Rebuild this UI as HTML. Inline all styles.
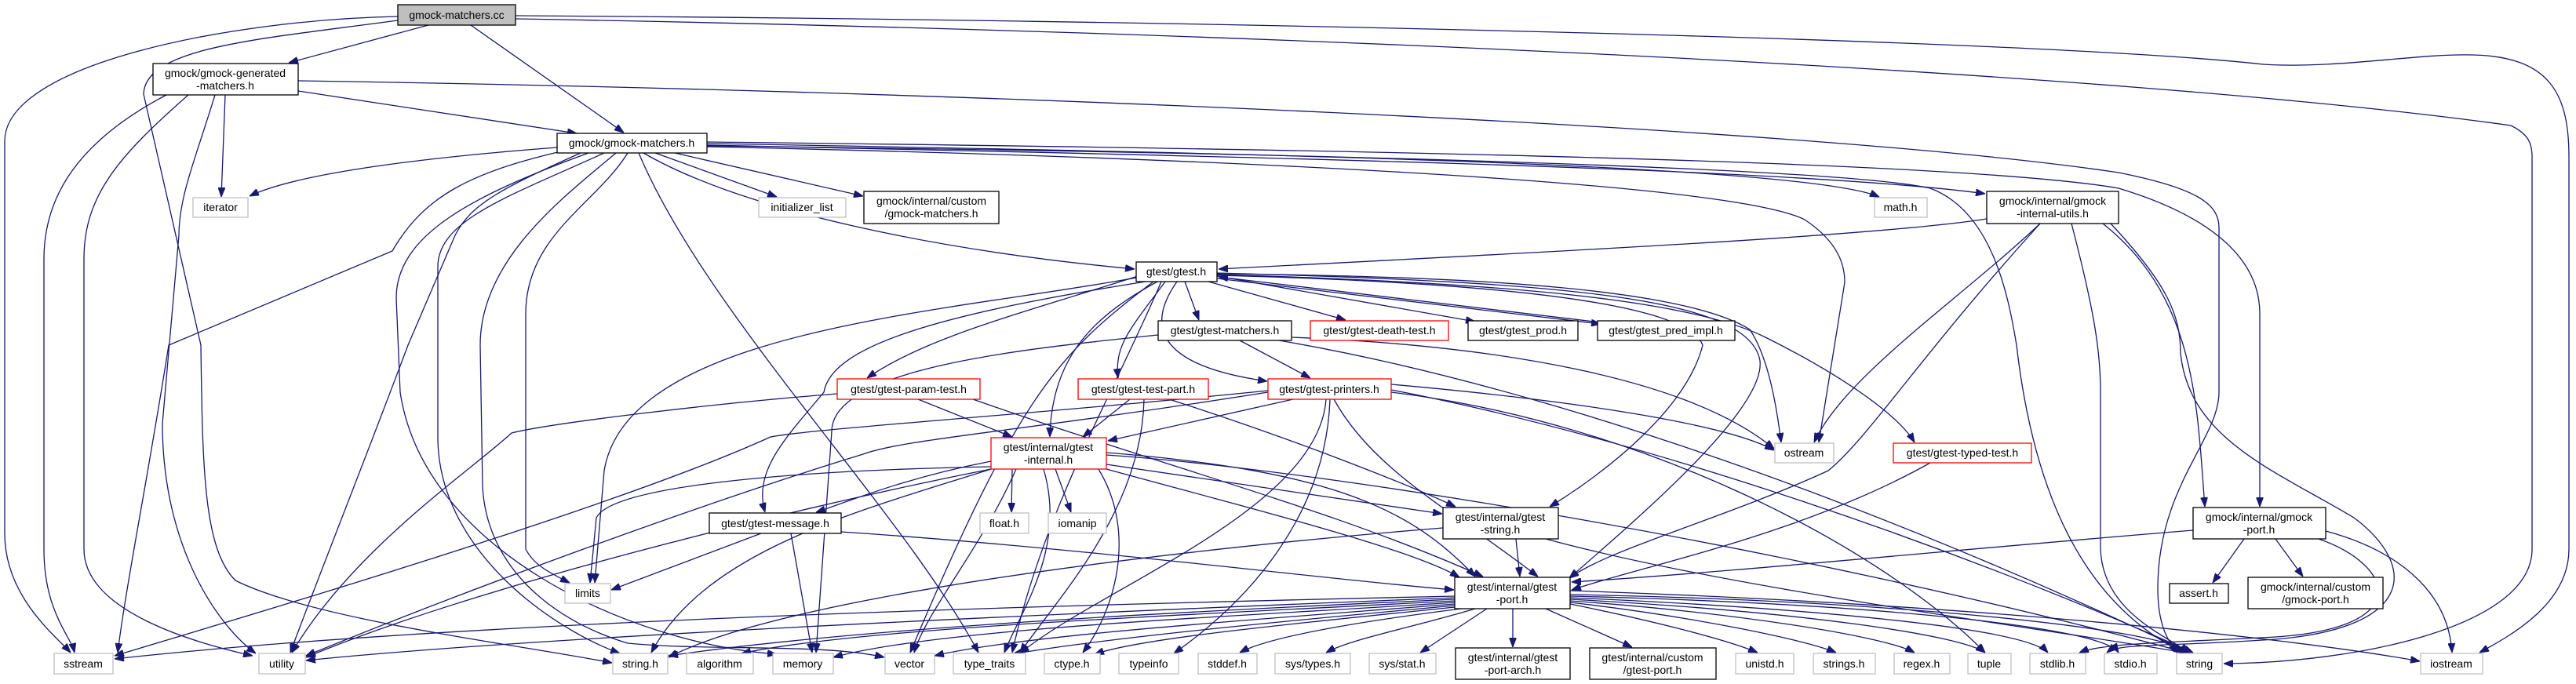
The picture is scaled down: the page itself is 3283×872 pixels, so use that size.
<!DOCTYPE html>
<html><head><meta charset="utf-8"><style>
html,body{margin:0;padding:0;background:#fff;}
svg{display:block;}
text{font-family:"Liberation Sans",sans-serif;font-size:14px;fill:#000;text-anchor:middle;}
.e{fill:none;stroke:#191970;stroke-width:1.3;marker-end:url(#a);}
.k{fill:#fff;stroke:#000;stroke-width:1.3;}
.g{fill:#fff;stroke:#bfbfbf;stroke-width:1.3;}
.r{fill:#fff;stroke:#ff0000;stroke-width:1.3;}
</style></head><body>
<svg width="3283" height="872" viewBox="0 0 3283 872" xmlns="http://www.w3.org/2000/svg">
<defs><marker id="a" markerWidth="12" markerHeight="9" refX="12" refY="4.5" orient="auto" markerUnits="userSpaceOnUse"><path d="M0,0 L12,4.5 L0,9z" fill="#191970" stroke="#191970"/></marker></defs>
<g>
<path class="e" d="M546,32 L368,80"/>
<path class="e" d="M600,32 L795,169"/>
<path class="e" d="M507,21 C300,25 6,80 6,180 L6,680 C6,760 70,810 90,832"/>
<path class="e" d="M507,26 C330,50 185,60 183,120 L256,440 C258,600 260,700 300,740 C400,790 650,820 780,845"/>
<path class="e" d="M657,20 C1500,25 2600,50 2884,82 C2980,88 3080,68 3151,70 C3250,72 3274,120 3274,200 L3274,700 C3274,770 3200,810 3160,832"/>
<path class="e" d="M657,24 C1600,40 2700,90 3200,160 C3220,170 3227,180 3227,200 L3227,700 C3227,800 3000,845 2834,846"/>
<path class="e" d="M380,116 L735,170"/>
<path class="e" d="M287,121 L282,251"/>
<path class="e" d="M380,103 C1200,115 2300,160 2700,220 C2800,240 2828,260 2828,290 L2828,500 C2828,560 2750,620 2750,750 C2750,800 2765,820 2775,832"/>
<path class="e" d="M212,121 C100,180 56,250 56,330 L56,700 C56,780 90,810 95,832"/>
<path class="e" d="M240,121 C150,200 107,250 107,330 L107,700 C107,780 250,820 322,836"/>
<path class="e" d="M274,121 C250,200 228,250 228,300 L207,540 C207,700 280,800 326,833"/>
<path class="e" d="M710,188 C550,200 380,220 318,250"/>
<path class="e" d="M835,195 L990,251"/>
<path class="e" d="M860,195 L1100,250"/>
<path class="e" d="M901,183 C1600,195 2300,210 2395,251"/>
<path class="e" d="M901,185 C1600,200 2300,215 2530,247"/>
<path class="e" d="M901,181 C1700,190 2500,205 2700,240 C2800,270 2880,320 2880,400 L2880,646"/>
<path class="e" d="M901,187 C1500,200 2200,230 2300,280 C2345,310 2351,340 2351,360 L2318,564"/>
<path class="e" d="M901,186 C1700,195 2350,215 2460,240 C2540,270 2560,380 2570,440 C2600,700 2700,790 2782,832"/>
<path class="e" d="M820,195 C950,270 1200,320 1446,343"/>
<path class="e" d="M715,193 C600,220 540,250 500,320 L215,440 C190,600 160,750 150,832"/>
<path class="e" d="M740,195 C640,240 600,260 580,300 L520,440 C460,600 400,750 370,832"/>
<path class="e" d="M800,195 C760,260 670,300 670,400 L670,700 C680,720 700,730 726,743"/>
<path class="e" d="M770,195 C650,250 558,280 558,340 L558,560 C560,700 700,800 790,833"/>
<path class="e" d="M750,195 C600,250 505,300 505,380 L510,500 C540,700 800,820 990,834"/>
<path class="e" d="M785,195 C720,250 612,330 612,440 L615,620 C620,720 700,790 800,820 C900,830 1050,820 1127,838"/>
<path class="e" d="M814,195 C900,400 1150,650 1247,832"/>
<path class="e" d="M1510,359 L1528,408"/>
<path class="e" d="M1540,359 L1715,408"/>
<path class="e" d="M1551,352 L1880,410"/>
<path class="e" d="M1551,355 L2040,413"/>
<path class="e" d="M2040,411 L1553,353"/>
<path class="e" d="M2532,279 C2400,300 2000,320 1553,343"/>
<path class="e" d="M1551,349 C1900,352 2150,370 2230,420 C2250,450 2262,500 2270,564"/>
<path class="e" d="M1551,350 C1900,360 2150,380 2250,430 C2350,480 2420,530 2440,564"/>
<path class="e" d="M1551,351 C1900,360 2150,385 2170,440 C2150,520 2050,600 1975,646"/>
<path class="e" d="M1551,348 C2000,360 2230,380 2243,460 C2250,520 2100,650 2000,737"/>
<path class="e" d="M1450,352 C1300,400 1180,430 1105,482"/>
<path class="e" d="M1485,359 C1440,420 1420,440 1425,482"/>
<path class="e" d="M1500,359 C1450,430 1500,470 1615,486"/>
<path class="e" d="M1475,359 C1400,400 1340,450 1338,557"/>
<path class="e" d="M1460,359 C1200,400 1060,440 1050,500 C1000,560 960,600 975,653"/>
<path class="e" d="M1448,354 C1200,400 800,420 770,600 L758,743"/>
<path class="e" d="M1470,359 C1350,450 1300,500 1160,832"/>
<path class="e" d="M1480,359 C1420,500 1330,650 1290,832"/>
<path class="e" d="M1580,434 L1670,482"/>
<path class="e" d="M1646,430 C1900,440 2150,480 2261,572"/>
<path class="e" d="M1476,427 C1300,445 1060,470 1060,550 L1040,832"/>
<path class="e" d="M1630,434 C1900,480 2300,600 2790,832"/>
<path class="e" d="M1170,509 L1290,557"/>
<path class="e" d="M1240,509 C1500,600 1700,650 1890,735"/>
<path class="e" d="M1067,502 C900,515 700,540 652,552 C600,600 450,700 372,832"/>
<path class="e" d="M1440,509 L1380,557"/>
<path class="e" d="M1490,509 C1650,560 1800,620 1855,646"/>
<path class="e" d="M1458,509 C1455,650 1350,760 1300,832"/>
<path class="e" d="M1648,509 L1412,562"/>
<path class="e" d="M1773,490 C2000,510 2200,540 2261,574"/>
<path class="e" d="M1700,509 C1750,600 1850,650 1960,735"/>
<path class="e" d="M1773,497 C2100,560 2500,700 2795,832"/>
<path class="e" d="M1773,500 C2100,540 2400,700 2530,832"/>
<path class="e" d="M1695,509 C1690,650 1600,760 1496,833"/>
<path class="e" d="M1690,509 C1680,650 1400,750 1300,833"/>
<path class="e" d="M1616,498 C1300,530 1050,545 982,557 C800,640 400,760 146,836"/>
<path class="e" d="M1616,500 C1300,550 1150,560 1100,579 C900,640 600,750 390,836"/>
<path class="e" d="M1290,598 L1289,653"/>
<path class="e" d="M1345,598 L1365,653"/>
<path class="e" d="M1263,588 C1150,610 1080,640 1040,653"/>
<path class="e" d="M1410,592 L1838,655"/>
<path class="e" d="M1410,577 C1700,600 1800,650 1880,735"/>
<path class="e" d="M1410,598 C1600,650 1800,700 1860,736"/>
<path class="e" d="M1295,598 C1250,700 1180,780 1165,832"/>
<path class="e" d="M1330,598 C1360,700 1300,780 1280,832"/>
<path class="e" d="M1400,598 C1450,680 1420,780 1380,832"/>
<path class="e" d="M1263,595 C1000,600 780,620 760,660 L752,743"/>
<path class="e" d="M1263,598 C1000,650 600,750 390,838"/>
<path class="e" d="M1263,598 C1100,650 900,700 830,832"/>
<path class="e" d="M1410,580 C1700,600 2300,700 2790,833"/>
<path class="e" d="M970,680 L779,752"/>
<path class="e" d="M1008,680 L1035,832"/>
<path class="e" d="M1072,678 C1400,700 1700,740 1853,752"/>
<path class="e" d="M1932,687 L1937,735"/>
<path class="e" d="M1839,673 C1500,700 1000,760 852,838"/>
<path class="e" d="M1970,687 C2200,750 2600,800 2790,833"/>
<path class="e" d="M1928,776 L1928,825"/>
<path class="e" d="M1970,776 L2080,825"/>
<path class="e" d="M1895,776 L1810,832"/>
<path class="e" d="M1880,776 C1800,800 1720,815 1690,832"/>
<path class="e" d="M1870,775 C1750,790 1620,810 1580,832"/>
<path class="e" d="M1854,760 C1400,770 600,790 146,840"/>
<path class="e" d="M1854,762 C1400,780 700,810 390,842"/>
<path class="e" d="M1854,764 C1500,780 1100,800 852,836"/>
<path class="e" d="M1854,766 C1500,785 1100,800 945,833"/>
<path class="e" d="M1854,768 C1600,785 1200,800 1062,838"/>
<path class="e" d="M1854,770 C1600,790 1300,810 1191,836"/>
<path class="e" d="M1854,772 C1600,795 1400,815 1290,834"/>
<path class="e" d="M1854,774 C1600,800 1450,815 1395,834"/>
<path class="e" d="M2001,770 C2100,790 2200,815 2240,832"/>
<path class="e" d="M2001,768 C2150,785 2300,815 2340,832"/>
<path class="e" d="M2001,766 C2200,780 2400,810 2440,832"/>
<path class="e" d="M2001,764 C2300,780 2500,810 2530,832"/>
<path class="e" d="M2001,762 C2300,775 2580,800 2610,832"/>
<path class="e" d="M2001,760 C2400,770 2680,800 2700,832"/>
<path class="e" d="M2001,758 C2400,765 2750,800 2790,832"/>
<path class="e" d="M2001,753 C2500,770 2900,810 3084,843"/>
<path class="e" d="M2460,590 C2300,680 2100,720 2003,752"/>
<path class="e" d="M2795,676 C2500,700 2200,730 2003,742"/>
<path class="e" d="M2860,687 L2820,743"/>
<path class="e" d="M2900,687 L2935,735"/>
<path class="e" d="M2964,677 C3050,700 3120,750 3125,832"/>
<path class="e" d="M2955,687 C3050,720 3080,800 2900,812 C2750,820 2680,820 2650,832"/>
<path class="e" d="M2600,285 C2500,380 2350,480 2312,564"/>
<path class="e" d="M2680,285 C2800,380 2800,520 2810,646"/>
<path class="e" d="M2640,285 C2670,400 2677,450 2677,500 L2677,700 C2680,780 2760,810 2790,832"/>
<path class="e" d="M2690,285 C2760,360 2779,400 2779,450 C2790,560 2900,600 3000,660 C3080,720 3080,800 2900,815 C2750,825 2700,820 2685,832"/>
<path class="e" d="M2600,285 C2450,450 2380,560 2330,600 C2200,660 2050,700 2000,737"/>
</g>
<g>
<rect x="507" y="6" width="150" height="26" fill="#bfbfbf" stroke="#000" stroke-width="1.3"/><text x="582" y="24">gmock-matchers.cc</text>
<rect class="k" x="195" y="81" width="185" height="40"/><text x="287" y="98">gmock/gmock-generated</text><text x="287" y="114">-matchers.h</text>
<rect class="k" x="710" y="170" width="191" height="25"/><text x="805" y="187">gmock/gmock-matchers.h</text>
<rect class="g" x="246" y="252" width="70" height="25"/><text x="281" y="269">iterator</text>
<rect class="g" x="967" y="252" width="111" height="25"/><text x="1022" y="269">initializer_list</text>
<rect class="k" x="1101" y="244" width="172" height="41"/><text x="1187" y="261">gmock/internal/custom</text><text x="1187" y="277">/gmock-matchers.h</text>
<rect class="g" x="2389" y="252" width="67" height="25"/><text x="2422" y="269">math.h</text>
<rect class="k" x="2532" y="244" width="168" height="41"/><text x="2616" y="261">gmock/internal/gmock</text><text x="2616" y="277">-internal-utils.h</text>
<rect class="k" x="1448" y="334" width="103" height="25"/><text x="1499" y="351">gtest/gtest.h</text>
<rect class="k" x="1476" y="409" width="170" height="25"/><text x="1561" y="426">gtest/gtest-matchers.h</text>
<rect class="r" x="1670" y="409" width="176" height="25"/><text x="1758" y="426">gtest/gtest-death-test.h</text>
<rect class="k" x="1871" y="409" width="140" height="25"/><text x="1941" y="426">gtest/gtest_prod.h</text>
<rect class="k" x="2036" y="409" width="175" height="25"/><text x="2123" y="426">gtest/gtest_pred_impl.h</text>
<rect class="r" x="1067" y="483" width="182" height="26"/><text x="1158" y="501">gtest/gtest-param-test.h</text>
<rect class="r" x="1374" y="483" width="166" height="26"/><text x="1457" y="501">gtest/gtest-test-part.h</text>
<rect class="r" x="1616" y="483" width="157" height="26"/><text x="1694" y="501">gtest/gtest-printers.h</text>
<rect class="g" x="2262" y="565" width="75" height="25"/><text x="2299" y="582">ostream</text>
<rect class="r" x="2413" y="565" width="176" height="25"/><text x="2501" y="582">gtest/gtest-typed-test.h</text>
<rect class="r" x="1263" y="558" width="147" height="40"/><text x="1336" y="575">gtest/internal/gtest</text><text x="1336" y="591">-internal.h</text>
<rect class="k" x="904" y="654" width="168" height="26"/><text x="988" y="672">gtest/gtest-message.h</text>
<rect class="g" x="1249" y="654" width="62" height="26"/><text x="1280" y="672">float.h</text>
<rect class="g" x="1336" y="654" width="74" height="26"/><text x="1373" y="672">iomanip</text>
<rect class="k" x="1839" y="647" width="147" height="40"/><text x="1912" y="664">gtest/internal/gtest</text><text x="1912" y="680">-string.h</text>
<rect class="k" x="2795" y="647" width="169" height="40"/><text x="2879" y="664">gmock/internal/gmock</text><text x="2879" y="680">-port.h</text>
<rect class="g" x="720" y="744" width="58" height="25"/><text x="749" y="761">limits</text>
<rect class="k" x="2765" y="744" width="75" height="25"/><text x="2802" y="761">assert.h</text>
<rect class="k" x="1854" y="736" width="147" height="40"/><text x="1927" y="753">gtest/internal/gtest</text><text x="1927" y="769">-port.h</text>
<rect class="k" x="2865" y="736" width="172" height="40"/><text x="2951" y="753">gmock/internal/custom</text><text x="2951" y="769">/gmock-port.h</text>
<rect class="k" x="1855" y="826" width="146" height="40"/><text x="1928" y="843">gtest/internal/gtest</text><text x="1928" y="859">-port-arch.h</text>
<rect class="k" x="2026" y="826" width="161" height="40"/><text x="2106" y="843">gtest/internal/custom</text><text x="2106" y="859">/gtest-port.h</text>
<rect class="g" x="69" y="833" width="75" height="26"/><text x="106" y="851">sstream</text>
<rect class="g" x="330" y="833" width="59" height="26"/><text x="359" y="851">utility</text>
<rect class="g" x="781" y="833" width="70" height="26"/><text x="816" y="851">string.h</text>
<rect class="g" x="875" y="833" width="85" height="26"/><text x="917" y="851">algorithm</text>
<rect class="g" x="985" y="833" width="77" height="26"/><text x="1023" y="851">memory</text>
<rect class="g" x="1128" y="833" width="63" height="26"/><text x="1159" y="851">vector</text>
<rect class="g" x="1215" y="833" width="92" height="26"/><text x="1261" y="851">type_traits</text>
<rect class="g" x="1331" y="833" width="71" height="26"/><text x="1366" y="851">ctype.h</text>
<rect class="g" x="1426" y="833" width="76" height="26"/><text x="1464" y="851">typeinfo</text>
<rect class="g" x="1527" y="833" width="75" height="26"/><text x="1564" y="851">stddef.h</text>
<rect class="g" x="1625" y="833" width="96" height="26"/><text x="1673" y="851">sys/types.h</text>
<rect class="g" x="1745" y="833" width="85" height="26"/><text x="1787" y="851">sys/stat.h</text>
<rect class="g" x="2212" y="833" width="74" height="26"/><text x="2249" y="851">unistd.h</text>
<rect class="g" x="2311" y="833" width="79" height="26"/><text x="2350" y="851">strings.h</text>
<rect class="g" x="2414" y="833" width="71" height="26"/><text x="2449" y="851">regex.h</text>
<rect class="g" x="2508" y="833" width="55" height="26"/><text x="2535" y="851">tuple</text>
<rect class="g" x="2587" y="833" width="71" height="26"/><text x="2622" y="851">stdlib.h</text>
<rect class="g" x="2682" y="833" width="67" height="26"/><text x="2715" y="851">stdio.h</text>
<rect class="g" x="2774" y="833" width="58" height="26"/><text x="2803" y="851">string</text>
<rect class="g" x="3085" y="833" width="79" height="26"/><text x="3124" y="851">iostream</text>
</g>
</svg>
</body></html>
